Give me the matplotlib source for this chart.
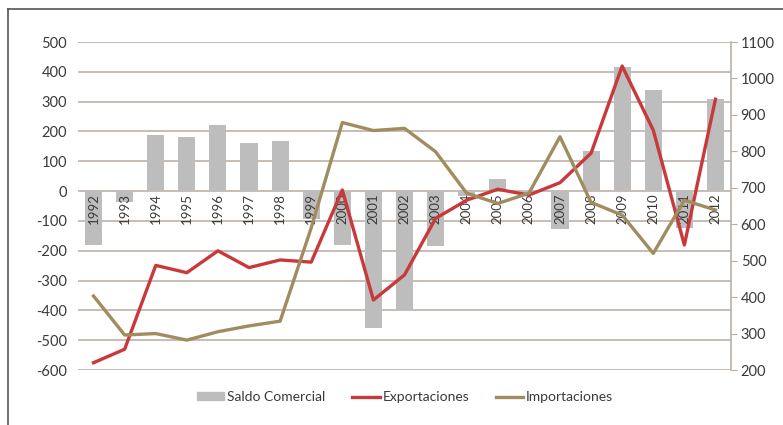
import matplotlib.pyplot as plt
from matplotlib.patches import Patch
from matplotlib.lines import Line2D

plt.rcParams['font.family'] = ['Lato', 'DejaVu Sans']
plt.rcParams['axes.unicode_minus'] = False

# datos
anios = [str(a) for a in range(1992, 2013)]
saldo = [-180, -35, 188, 181, 222, 162, 169, -95, -181, -460, -398, -183,
         -15, 40, -5, -128, 135, 415, 339, -125, 308]
exportaciones = [220, 257, 487, 467, 527, 481, 502, 496, 694, 392, 461, 616,
                 666, 696, 680, 714, 795, 1034, 858, 543, 943]
importaciones = [403, 296, 300, 282, 305, 321, 334, 590, 879, 857, 863, 799,
                 685, 657, 685, 840, 660, 625, 520, 666, 639]

c_barra = '#bdbdbd'
c_exp = '#c9393b'
c_imp = '#a08c5e'
c_grid = '#b7aba3'
c_txt = '#3a3a3a'

fig = plt.figure(figsize=(7.83, 4.25), dpi=100)
fig.patch.set_facecolor('white')

# marco exterior (solo arriba e izquierda visibles)
fig.add_artist(Line2D([8 / 783, 8 / 783], [0, 1 - 9 / 425], color='#555555', lw=1.2))
fig.add_artist(Line2D([8 / 783, 1], [1 - 9 / 425, 1 - 9 / 425], color='#555555', lw=1.2))

ax = fig.add_axes([78 / 783, 1 - 370 / 425, (731 - 78) / 783, (370 - 42) / 425])
x = range(len(anios))
ax.bar(x, saldo, width=0.55, color=c_barra, zorder=2)
ax.set_xlim(-0.5, len(anios) - 0.5)
ax.set_ylim(-600, 500)
ax.set_yticks(range(-600, 501, 100))
ax.yaxis.grid(True, color=c_grid, lw=1.1, zorder=0)
ax.set_axisbelow(True)
ax.tick_params(axis='y', length=0, pad=8, labelsize=10.5, labelcolor=c_txt)
ax.set_xticks([])
for s in ax.spines.values():
    s.set_visible(False)
ax.set_facecolor('none')

# etiquetas de los anios bajo el eje cero
for i, a in enumerate(anios):
    ax.text(i, -8, a, rotation=90, ha='center', va='top', fontsize=9.5,
            color=c_txt, zorder=3)

ax2 = ax.twinx()
ax2.plot(x, exportaciones, color=c_exp, lw=2.4, zorder=4)
ax2.plot(x, importaciones, color=c_imp, lw=2.4, zorder=4)
ax2.set_ylim(200, 1100)
ax2.set_yticks(range(200, 1101, 100))
ax2.tick_params(axis='y', length=4, color=c_grid, pad=3, labelsize=10.5, labelcolor=c_txt)
for k in ['top', 'left', 'bottom']:
    ax2.spines[k].set_visible(False)
ax2.spines['right'].set_color(c_grid)
ax2.spines['right'].set_linewidth(1.1)

handles = [Patch(color=c_barra, label='Saldo Comercial'),
           Line2D([], [], color=c_exp, lw=2.4, label='Exportaciones'),
           Line2D([], [], color=c_imp, lw=2.4, label='Importaciones')]
fig.legend(handles=handles, loc='center', bbox_to_anchor=(405 / 783, 1 - 397 / 425),
           ncol=3, frameon=False, fontsize=10, handlelength=2.0, handleheight=0.5,
           handletextpad=0.2, columnspacing=1.9, labelcolor=c_txt)

fig.savefig('out.png', dpi=100)
